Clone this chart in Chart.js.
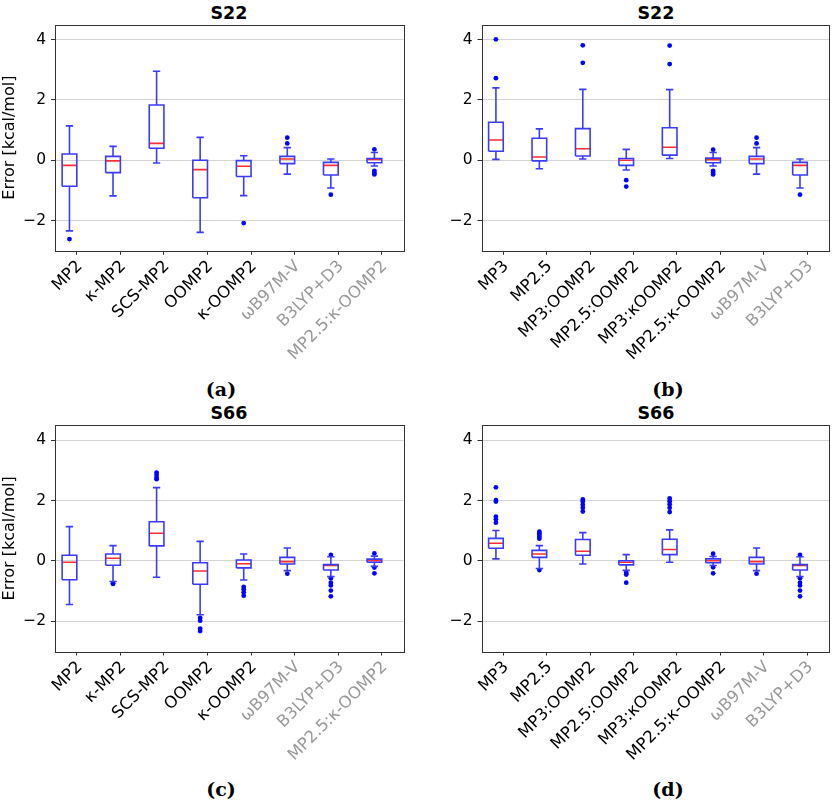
<!DOCTYPE html>
<html><head><meta charset="utf-8">
<script src="https://cdn.jsdelivr.net/npm/chart.js@4.4.1/dist/chart.umd.min.js"></script>
<style>
html,body{margin:0;padding:0;background:#fff;overflow:hidden;}
#wrap{position:relative;width:833px;height:801px;overflow:hidden;}
canvas{position:absolute;}
.ttl{position:absolute;font-family:'DejaVu Sans',sans-serif;font-weight:bold;font-size:17.5px;transform:translate(-50%,-50%);white-space:nowrap;line-height:1;}
.cap{position:absolute;font-family:'DejaVu Serif',serif;font-weight:bold;font-size:19px;transform:translate(-50%,-50%);white-space:nowrap;line-height:1;}
</style></head><body><div id="wrap">
<div class="ttl" style="left:229px;top:13.5px">S22</div>
<div class="ttl" style="left:656px;top:13.5px">S22</div>
<div class="ttl" style="left:229px;top:413.5px">S66</div>
<div class="ttl" style="left:656px;top:413.5px">S66</div>
<div class="cap" style="left:221px;top:389px">(a)</div>
<div class="cap" style="left:668px;top:389px">(b)</div>
<div class="cap" style="left:221px;top:789px">(c)</div>
<div class="cap" style="left:668px;top:789px">(d)</div>
<canvas id="pa" width="416" height="400" style="left:0;top:0"></canvas>
<canvas id="pb" width="417" height="400" style="left:416px;top:0"></canvas>
<canvas id="pc" width="416" height="401" style="left:0;top:400px"></canvas>
<canvas id="pd" width="417" height="401" style="left:416px;top:400px"></canvas>
</div>
<script>
// ---------------- data ----------------
const methodsLeft  = ['MP2','κ-MP2','SCS-MP2','OOMP2','κ-OOMP2','ωB97M-V','B3LYP+D3','MP2.5:κ-OOMP2'];
const methodsRight = ['MP3','MP2.5','MP3:OOMP2','MP2.5:OOMP2','MP3:κOOMP2','MP2.5:κ-OOMP2','ωB97M-V','B3LYP+D3'];
const referenceMethodsLeft  = ['ωB97M-V','B3LYP+D3','MP2.5:κ-OOMP2'];
const referenceMethodsRight = ['ωB97M-V','B3LYP+D3'];
const yTicks = [-2, 0, 2, 4];
const yTickLabels = ['−2', '0', '2', '4'];
const yTitle = 'Error [kcal/mol]';

// (a) S22, left method set
const s22aLow  = [-2.34,-1.18,-0.09,-2.39,-1.17,-0.46,-0.92,-0.19];
const s22aQ1   = [-0.86,-0.41, 0.40,-1.24,-0.54,-0.11,-0.49,-0.08];
const s22aMed  = [-0.17,-0.02, 0.56,-0.31,-0.20, 0.04,-0.17, 0.03];
const s22aQ3   = [ 0.21, 0.13, 1.83, 0.00,-0.01, 0.13,-0.07, 0.06];
const s22aHigh = [ 1.14, 0.46, 2.95, 0.76, 0.15, 0.42, 0.04, 0.26];
const s22aOut  = [[-2.61],[],[],[],[-2.08],[0.75,0.56],[-1.14],[0.36,-0.35,-0.41,-0.47]];

// (b) S22, right method set
const s22bLow  = [ 0.03,-0.28, 0.04,-0.32, 0.06,-0.19,-0.46,-0.92];
const s22bQ1   = [ 0.30,-0.02, 0.14,-0.17, 0.17,-0.08,-0.11,-0.49];
const s22bMed  = [ 0.67, 0.11, 0.38, 0.00, 0.43, 0.02, 0.04,-0.17];
const s22bQ3   = [ 1.26, 0.73, 1.05, 0.06, 1.08, 0.07, 0.13,-0.07];
const s22bHigh = [ 2.40, 1.04, 2.35, 0.36, 2.34, 0.26, 0.42, 0.04];
const s22bOut  = [[4.01,2.72],[],[3.81,3.23],[-0.66,-0.87],[3.80,3.19],[0.35,-0.35,-0.41,-0.47],[0.75,0.56],[-1.14]];

// (c) S66, left method set
const s66cLow  = [-1.44,-0.68,-0.54,-1.78,-0.63,-0.32,-0.52,-0.18];
const s66cQ1   = [-0.62,-0.14, 0.50,-0.77,-0.23,-0.10,-0.30,-0.04];
const s66cMed  = [-0.04, 0.09, 0.92,-0.33,-0.09,-0.02,-0.15, 0.01];
const s66cQ3   = [ 0.19, 0.23, 1.30,-0.06, 0.03, 0.12,-0.12, 0.06];
const s66cHigh = [ 1.14, 0.51, 2.43, 0.65, 0.23, 0.43, 0.14, 0.16];
const s66cOut  = [[],[-0.74,-0.76],[2.93,2.85,2.76,2.71],[-1.89,-1.98,-2.24,-2.32],[-0.86,-0.94,-1.04,-1.15],[-0.42],[0.20,-0.57,-0.72,-0.81,-0.98,-1.17],[0.25,-0.22,-0.41]];

// (d) S66, right method set
const s66dLow  = [ 0.07,-0.25,-0.10,-0.31,-0.04,-0.15,-0.32,-0.52];
const s66dQ1   = [ 0.42, 0.12, 0.19,-0.13, 0.21,-0.06,-0.10,-0.30];
const s66dMed  = [ 0.59, 0.23, 0.32,-0.04, 0.38, 0.01,-0.02,-0.15];
const s66dQ3   = [ 0.75, 0.35, 0.71, 0.01, 0.72, 0.07, 0.12,-0.12];
const s66dHigh = [ 1.01, 0.51, 0.94, 0.21, 1.03, 0.15, 0.43, 0.14];
const s66dOut  = [[2.44,2.02,1.97,1.47,1.38,1.27],[0.97,0.92,0.86,0.80,0.74,-0.30],[2.04,1.97,1.86,1.76,1.64],[-0.39,-0.45,-0.72],[2.07,1.98,1.88,1.76,1.62],[0.24,-0.21,-0.41],[-0.42],[0.20,-0.57,-0.72,-0.81,-0.98,-1.17]];

// ---------------- styling / building ----------------
Chart.defaults.font.family = "'DejaVu Sans', sans-serif";
Chart.defaults.color = '#000';

const BOX_SHIFT = -0.168;   // box centre relative to its tick (category units)
const BOX_W = 0.337;        // box width (category units)
const BOX_COLOR = '#3b3bff';
const MED_COLOR = '#ff2f2f';

function boxDatasets(low, q1, med, q3, high, out) {
  const hw = BOX_W / 2, cw = BOX_W / 4;
  const whisk = [], box = [], medl = [], pts = [];
  const gap = x => ({x: x, y: null});
  low.forEach((_, i) => {
    const x = i + BOX_SHIFT;
    whisk.push({x, y: low[i]}, {x, y: q1[i]}, gap(x),
               {x, y: q3[i]}, {x, y: high[i]}, gap(x),
               {x: x - cw, y: low[i]}, {x: x + cw, y: low[i]}, gap(x),
               {x: x - cw, y: high[i]}, {x: x + cw, y: high[i]}, gap(x));
    box.push({x: x - hw, y: q1[i]}, {x: x + hw, y: q1[i]}, {x: x + hw, y: q3[i]},
             {x: x - hw, y: q3[i]}, {x: x - hw, y: q1[i]}, gap(x));
    medl.push({x: x - hw, y: med[i]}, {x: x + hw, y: med[i]}, gap(x));
    out[i].forEach(v => pts.push({x, y: v}));
  });
  const lineDs = (data, color) => ({
    data, showLine: true, spanGaps: false, borderColor: color, borderWidth: 1.6,
    pointRadius: 0, tension: 0, borderJoinStyle: 'miter', borderCapStyle: 'butt', fill: false
  });
  return [
    lineDs(whisk, BOX_COLOR),
    lineDs(box, BOX_COLOR),
    lineDs(medl, MED_COLOR),
    {data: pts, showLine: false, pointRadius: 2.4, pointBackgroundColor: '#0000ff', pointBorderWidth: 0, pointBorderColor: '#0000ff'}
  ];
}

const framePlugin = {
  id: 'frame',
  afterDraw(chart) {
    const {ctx, chartArea: a} = chart;
    ctx.save();
    ctx.strokeStyle = '#333';
    ctx.lineWidth = 1;
    const l = Math.round(a.left) + 0.5, t = Math.round(a.top) + 0.5;
    const r = Math.round(a.right) + 0.5, b = Math.round(a.bottom) + 0.5;
    ctx.strokeRect(l, t, r - l, b - t);
    ctx.restore();
  }
};

function makeChart(id, cats, refs, stats, cfg) {
  new Chart(document.getElementById(id), {
    type: 'scatter',
    data: {datasets: boxDatasets(...stats)},
    options: {
      responsive: false, animation: false, events: [],
      layout: {padding: {top: cfg.padTop, right: cfg.padRight, left: 0, bottom: 0}},
      plugins: {legend: {display: false}, tooltip: {enabled: false}, title: {display: false}},
      scales: {
        x: {
          type: 'linear', min: -0.5, max: 7.5,
          afterBuildTicks: s => { s.ticks = cats.map((c, i) => ({value: i})); },
          afterFit: s => { s.height = cfg.xH; },
          grid: {drawOnChartArea: false, drawTicks: true, tickLength: 4, tickColor: '#333', tickWidth: 1},
          border: {display: false},
          ticks: {
            autoSkip: false, minRotation: 45, maxRotation: 45, padding: 2, labelOffset: 3,
            font: {size: 16.5},
            callback: (v, i) => cats[i],
            color: ctx => refs.includes(cats[ctx.index]) ? '#999999' : '#000000'
          }
        },
        y: {
          type: 'linear', min: -3, max: 4.5,
          afterBuildTicks: s => { s.ticks = yTicks.map(v => ({value: v})); },
          afterFit: s => { s.width = cfg.yW; },
          grid: {color: '#d4d4d4', lineWidth: 1, drawTicks: true, tickLength: 4, tickColor: '#333'},
          border: {display: false},
          ticks: {padding: 5, font: {size: 15.5}, callback: (v, i) => yTickLabels[i]},
          title: {display: cfg.showTitle, text: yTitle, font: {size: 16}, padding: {top: 0.5, bottom: 0}}
        }
      }
    },
    plugins: [framePlugin]
  });
}

makeChart('pa', methodsLeft, referenceMethodsLeft,
  [s22aLow, s22aQ1, s22aMed, s22aQ3, s22aHigh, s22aOut],
  {padTop: 24.5, padRight: 12.5, xH: 149.2, yW: 55, showTitle: true});
makeChart('pb', methodsRight, referenceMethodsRight,
  [s22bLow, s22bQ1, s22bMed, s22bQ3, s22bHigh, s22bOut],
  {padTop: 24.5, padRight: 3, xH: 149.2, yW: 65.5, showTitle: false});
makeChart('pc', methodsLeft, referenceMethodsLeft,
  [s66cLow, s66cQ1, s66cMed, s66cQ3, s66cHigh, s66cOut],
  {padTop: 25.2, padRight: 12.5, xH: 149.5, yW: 55, showTitle: true});
makeChart('pd', methodsRight, referenceMethodsRight,
  [s66dLow, s66dQ1, s66dMed, s66dQ3, s66dHigh, s66dOut],
  {padTop: 25.2, padRight: 3, xH: 149.5, yW: 65.5, showTitle: false});
</script>
</body></html>
